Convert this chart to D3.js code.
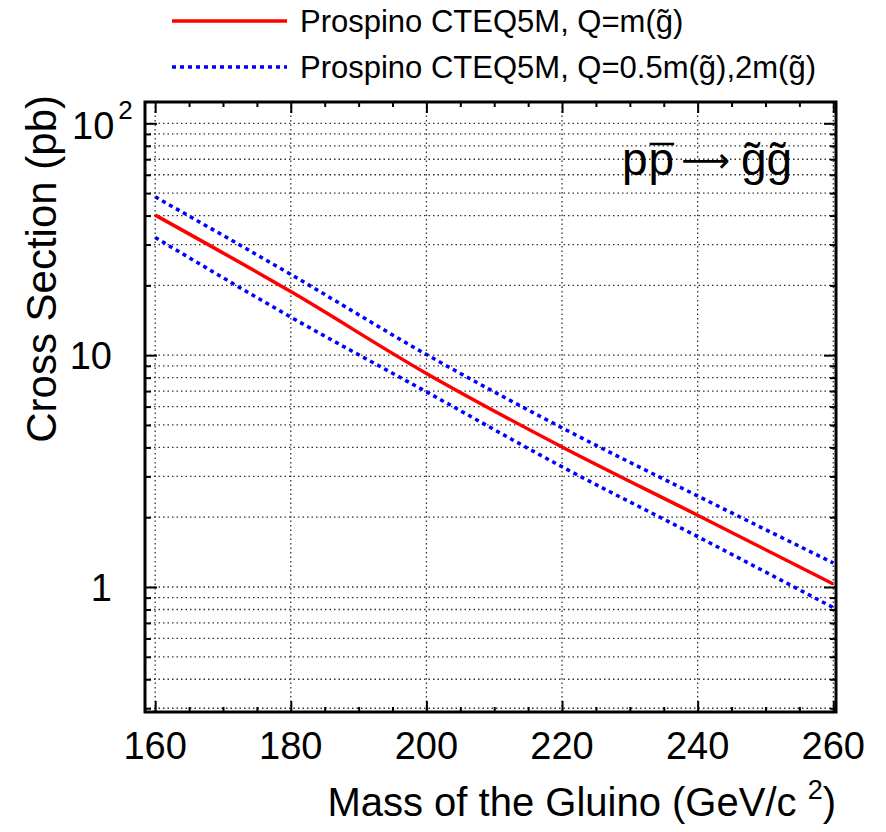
<!DOCTYPE html>
<html>
<head>
<meta charset="UTF-8">
<title>Gluino pair cross section</title>
<script src="https://d3js.org/d3.v7.min.js"></script>
<style>
  body { margin: 0; background: #fff; }
  text { font-family: "Liberation Sans", Arial, Helvetica, sans-serif; fill: #000; }
  .grid line { stroke: #333; stroke-width: 1.3; stroke-dasharray: 1.5,3; }
  .tick-axis path { display: none; }
  .tick-axis line { stroke: #000; stroke-width: 2; }
</style>
</head>
<body>
<div id="chart"></div>
<script>
// gluino mass (GeV/c^2)
var masses = [160, 180, 200, 220, 240, 260];
// cross sections (pb), Prospino CTEQ5M
var xsCentral = [40.2, 18.8, 8.34, 4.02, 2.04, 1.03];   // Q = m(g~)
var xsHigh    = [48.2, 22.3, 10.07, 4.86, 2.47, 1.27];  // Q = 0.5 m(g~)
var xsLow     = [32.2, 14.6, 6.95, 3.30, 1.65, 0.815];  // Q = 2 m(g~)

var xMajor = [160, 180, 200, 220, 240, 260];
var yMajor = [1, 10, 100];

var W = 886, H = 832;
var frame = {left: 145, top: 102, right: 836, bottom: 712};

var svg = d3.select("#chart").append("svg")
    .attr("width", W)
    .attr("height", H);

var x = d3.scaleLinear()
    .domain([158.5, 260.4])
    .range([frame.left, frame.right]);

var y = d3.scaleLog()
    .domain([0.289, 123.6])
    .range([frame.bottom, frame.top]);

// minor values for log axis
var yAll = [];
[0.1, 1, 10, 100].forEach(function(dec) {
    for (var k = 1; k <= 9; k++) {
        var v = +(k * dec).toPrecision(3);
        if (v >= y.domain()[0] && v <= y.domain()[1]) yAll.push(v);
    }
});
var yMinor = yAll.filter(function(v) { return yMajor.indexOf(v) < 0; });
var xMinor = d3.range(160, 261, 5).filter(function(v) { return xMajor.indexOf(v) < 0; });

// grid
var grid = svg.append("g").attr("class", "grid");
grid.selectAll(".gy").data(yAll).enter().append("line")
    .attr("x1", frame.left).attr("x2", frame.right)
    .attr("y1", function(d) { return y(d); })
    .attr("y2", function(d) { return y(d); });
grid.selectAll(".gx").data(xMajor).enter().append("line")
    .attr("y1", frame.top).attr("y2", frame.bottom)
    .attr("x1", function(d) { return x(d); })
    .attr("x2", function(d) { return x(d); });

// ticks (inward, on all four sides)
function tickAxis(axis, vals, size, tr) {
    svg.append("g").attr("class", "tick-axis")
        .attr("transform", tr)
        .call(axis.tickValues(vals).tickSize(size).tickFormat(""));
}
tickAxis(d3.axisBottom(x), xMajor, -11, "translate(0," + frame.bottom + ")");
tickAxis(d3.axisBottom(x), xMinor, -5, "translate(0," + frame.bottom + ")");
tickAxis(d3.axisTop(x), xMajor, -11, "translate(0," + frame.top + ")");
tickAxis(d3.axisTop(x), xMinor, -5, "translate(0," + frame.top + ")");
tickAxis(d3.axisLeft(y), yMajor, -12, "translate(" + frame.left + ",0)");
tickAxis(d3.axisLeft(y), yMinor, -6, "translate(" + frame.left + ",0)");
tickAxis(d3.axisRight(y), yMajor, -12, "translate(" + frame.right + ",0)");
tickAxis(d3.axisRight(y), yMinor, -6, "translate(" + frame.right + ",0)");

// curves
var line = d3.line()
    .x(function(d) { return x(d[0]); })
    .y(function(d) { return y(d[1]); })
    .curve(d3.curveMonotoneX);

function series(vals) { return masses.map(function(m, i) { return [m, vals[i]]; }); }

svg.append("path").datum(series(xsHigh))
    .attr("d", line).attr("fill", "none")
    .attr("stroke", "#0000ff").attr("stroke-width", 3.5).attr("stroke-dasharray", "4,4");
svg.append("path").datum(series(xsLow))
    .attr("d", line).attr("fill", "none")
    .attr("stroke", "#0000ff").attr("stroke-width", 3.5).attr("stroke-dasharray", "4,4");
svg.append("path").datum(series(xsCentral))
    .attr("d", line).attr("fill", "none")
    .attr("stroke", "#ff0000").attr("stroke-width", 3.5);

// frame
svg.append("rect")
    .attr("x", frame.left).attr("y", frame.top)
    .attr("width", frame.right - frame.left)
    .attr("height", frame.bottom - frame.top)
    .attr("fill", "none").attr("stroke", "#000").attr("stroke-width", 3);

// x tick labels
svg.selectAll(".xl").data(xMajor).enter().append("text")
    .attr("x", function(d) { return x(d); })
    .attr("y", 759)
    .attr("text-anchor", "middle")
    .style("font-size", "38px")
    .text(function(d) { return d; });

// y tick labels
svg.append("text").attr("x", 112).attr("y", y(1) + 14)
    .attr("text-anchor", "end").style("font-size", "38px").text("1");
svg.append("text").attr("x", 112).attr("y", y(10) + 14)
    .attr("text-anchor", "end").style("font-size", "38px").text("10");
var t100 = svg.append("text").attr("x", 72).attr("y", y(100) + 16)
    .style("font-size", "38px");
t100.append("tspan").text("10");
t100.append("tspan").attr("dx", 4).attr("dy", -20).style("font-size", "26px").text("2");

// axis titles
var xt = svg.append("text")
    .attr("x", 836).attr("y", 816)
    .attr("text-anchor", "end")
    .style("font-size", "40px");
xt.append("tspan").text("Mass of the Gluino (GeV/c ");
xt.append("tspan").attr("dy", -17).style("font-size", "27px").text("2");
xt.append("tspan").attr("dy", 17).text(")");

svg.append("text")
    .attr("transform", "translate(56,95) rotate(-90)")
    .attr("text-anchor", "end")
    .style("font-size", "42px")
    .text("Cross Section (pb)");

// process label, built piece by piece
var procY = 175, procX = 622;
var pieces = [
    {t: "p", size: 46, bar: false, gap: 0},
    {t: "p", size: 46, bar: true, gap: 1},
    {t: "\u27F6", size: 34, bar: false, gap: 7, font: "DejaVu Sans", dy: -3},
    {t: "g\u0303g\u0303", size: 46, bar: false, gap: 11}
];
var px = procX;
pieces.forEach(function(p) {
    px += p.gap;
    var t = svg.append("text")
        .attr("x", px).attr("y", procY + (p.dy || 0))
        .style("font-size", p.size + "px")
        .text(p.t);
    if (p.font) t.style("font-family", p.font);
    var w = t.node().getComputedTextLength();
    if (p.bar) {
        svg.append("line")
            .attr("x1", px + 1).attr("x2", px + w)
            .attr("y1", procY - 31).attr("y2", procY - 31)
            .attr("stroke", "#000").attr("stroke-width", 2.5);
    }
    px += w;
});

// legend
var legendItems = [
    {label: "Prospino CTEQ5M, Q=m(g\u0303)", color: "#ff0000", dash: null},
    {label: "Prospino CTEQ5M, Q=0.5m(g\u0303),2m(g\u0303)", color: "#0000ff", dash: "4,4"}
];
var leg = svg.selectAll(".leg").data(legendItems).enter().append("g")
    .attr("transform", function(d, i) { return "translate(0," + (21 + i * 46) + ")"; });
leg.append("line")
    .attr("x1", 172).attr("x2", 287)
    .attr("stroke", function(d) { return d.color; })
    .attr("stroke-width", 3.5)
    .attr("stroke-dasharray", function(d) { return d.dash; });
leg.append("text")
    .attr("x", 300).attr("y", 11)
    .style("font-size", "31px")
    .text(function(d) { return d.label; });
</script>
</body>
</html>
